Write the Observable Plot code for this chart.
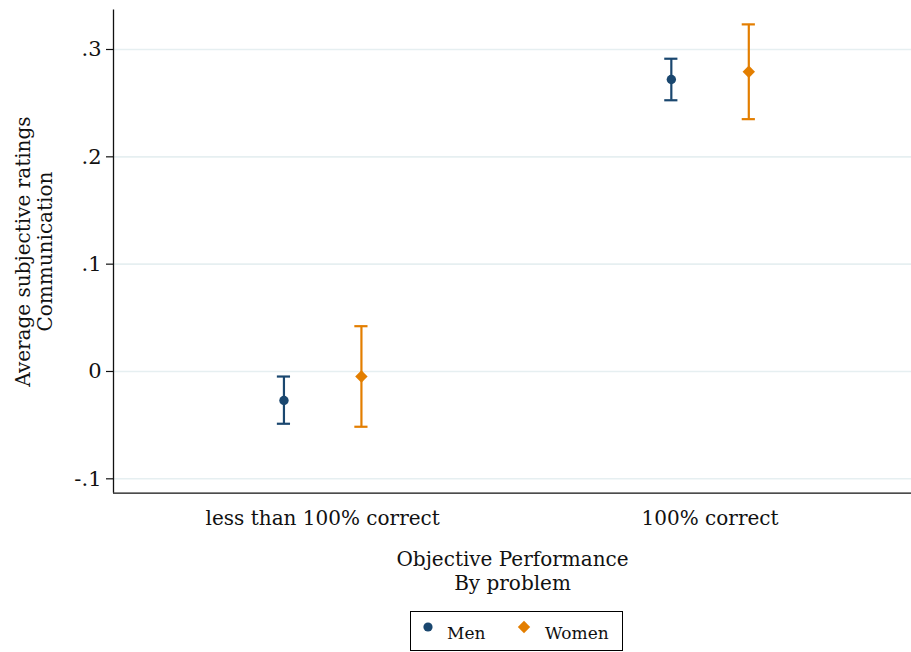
<!DOCTYPE html>
<html><head><meta charset="utf-8">
<script src="https://cdn.jsdelivr.net/npm/d3@7"></script>
<script src="https://cdn.jsdelivr.net/npm/@observablehq/plot@0.6"></script>
<style>
body{margin:0;background:#fff;font-family:"DejaVu Serif",serif;}
#wrap{position:relative;width:911px;height:652px;}
#legend{position:absolute;left:410px;top:611px;width:211px;height:38px;border:1.3px solid #000;box-sizing:content-box;font-size:17px;color:#111;}
#legend .item{position:absolute;top:0;height:38px;display:flex;align-items:center;}
</style>
</head><body><div id="wrap"><div id="chart"></div><div id="legend"></div></div><script>
const categories = ["less than 100% correct", "100% correct"];
const groups = ["Men", "Women"];
const menMean = [-0.027, 0.272];
const menLow = [-0.0487, 0.2527];
const menHigh = [-0.0047, 0.2914];
const womenMean = [-0.0047, 0.2793];
const womenLow = [-0.0515, 0.2351];
const womenHigh = [0.0422, 0.3234];
const yTicks = [-0.1, 0, 0.1, 0.2, 0.3];
const yTickLabels = ["-.1", "0", ".1", ".2", ".3"];
const colors = ["#1a476f", "#e37e00"];
const symbols = ["circle", "diamond2"];
const xTitle = "Objective Performance\nBy problem";
const yTitle = "Average subjective ratings\nCommunication";

const offset = {Men: -0.1, Women: 0.1};
const cap = 0.017;
const rows = [];
categories.forEach((c, i) => {
  rows.push({x: i + 1 + offset.Men, group: "Men", mean: menMean[i], lo: menLow[i], hi: menHigh[i]});
  rows.push({x: i + 1 + offset.Women, group: "Women", mean: womenMean[i], lo: womenLow[i], hi: womenHigh[i]});
});
const menRows = rows.filter(d => d.group === "Men");
const womenRows = rows.filter(d => d.group === "Women");

const H = 606;
const xDom = [0.46, 2.52];
const yDom = [-0.1134, 0.3368];
const FONT = "DejaVu Serif";

const chart = Plot.plot({
  width: 911,
  height: H,
  marginLeft: 113,
  marginRight: 0,
  marginTop: 9.5,
  marginBottom: H - 492.7,
  style: {fontFamily: FONT, fontSize: "20px", background: "white", color: "#111"},
  x: {domain: xDom},
  y: {domain: yDom},
  color: {domain: groups, range: colors},
  marks: [
    Plot.gridY(yTicks, {stroke: "#e6eff1", strokeOpacity: 1, strokeWidth: 1.6}),
    Plot.axisY({ticks: yTicks, tickFormat: d => yTickLabels[yTicks.findIndex(t => Math.abs(t - d) < 1e-9)], tickSize: 7, tickPadding: 5, fontSize: 21, label: null, stroke: "#111", strokeWidth: 1.2}),
    Plot.axisX({ticks: [1, 2], tickFormat: d => categories[d - 1], tickSize: 0, tickPadding: 18, fontSize: 20, label: null}),
    Plot.ruleX([xDom[0]], {stroke: "#111", strokeWidth: 1.3}),
    Plot.ruleY([yDom[0]], {stroke: "#111", strokeWidth: 1.3}),
    Plot.ruleX(rows, {x: "x", y1: "lo", y2: "hi", stroke: "group", strokeWidth: 2.2}),
    Plot.ruleY(rows, {y: "lo", x1: d => d.x - cap, x2: d => d.x + cap, stroke: "group", strokeWidth: 2.2}),
    Plot.ruleY(rows, {y: "hi", x1: d => d.x - cap, x2: d => d.x + cap, stroke: "group", strokeWidth: 2.2}),
    Plot.dot(menRows, {x: "x", y: "mean", fill: colors[0], symbol: symbols[0], r: 4.7, stroke: "none"}),
    Plot.dot(womenRows, {x: "x", y: "mean", fill: colors[1], symbol: symbols[1], r: 5.6, stroke: "none"}),
    Plot.text([xTitle], {frameAnchor: "bottom", text: d => d, dy: 56, lineAnchor: "top", lineHeight: 1.2, fontSize: 20, fill: "#111"}),
    Plot.text([yTitle], {frameAnchor: "left", text: d => d, dx: -80, rotate: -90, textAnchor: "middle", lineAnchor: "middle", lineHeight: 1.1, fontSize: 20, fill: "#111"})
  ]
});
document.getElementById("chart").appendChild(chart);

const legend = document.getElementById("legend");
const legendItems = [
  {label: groups[0], left: 10, svg: `<svg width="14" height="14" style="margin-right:12px;margin-top:-8px"><circle cx="7" cy="7" r="4.6" fill="${colors[0]}"/></svg>`},
  {label: groups[1], left: 106, svg: `<svg width="14" height="14" style="margin-right:14px;margin-top:-8px"><path d="M7,0.8L13.2,7L7,13.2L0.8,7Z" fill="${colors[1]}"/></svg>`}
];
legendItems.forEach(it => {
  const d = document.createElement("div");
  d.className = "item";
  d.style.left = it.left + "px";
  d.innerHTML = it.svg + `<span style="margin-top:4px">${it.label}</span>`;
  legend.appendChild(d);
});
</script></body></html>
